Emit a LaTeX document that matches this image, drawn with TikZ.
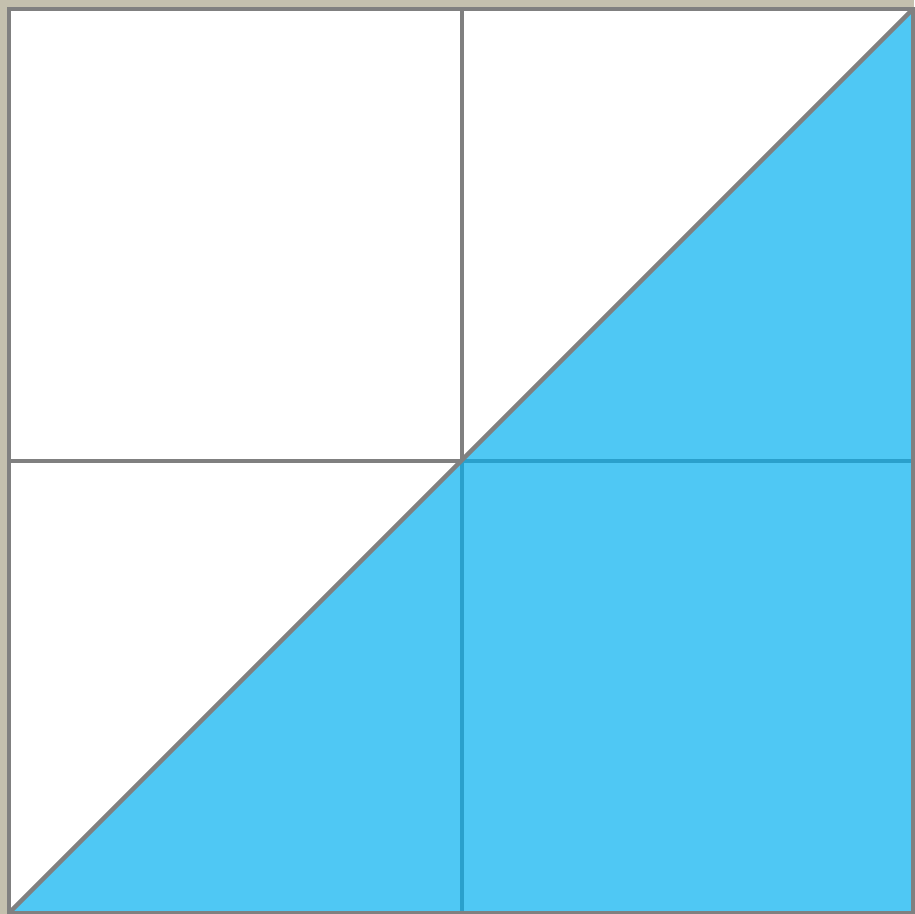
\documentclass[tikz,border=0pt]{standalone}
\definecolor{bgbeige}{HTML}{C4C0AE}
\definecolor{linegray}{HTML}{808080}
\definecolor{skyblue}{HTML}{4FC8F4}
\definecolor{deepblue}{HTML}{2AA0CC}
\begin{document}
\begin{tikzpicture}[x=1pt,y=-1pt,
  grayline/.style={draw=linegray,line width=4.3pt},
  blueline/.style={draw=deepblue,line width=4.3pt}]
\useasboundingbox (0,0) rectangle (914,914);
\fill[bgbeige] (0,0) rectangle (914,914);
\coordinate (tl) at (9,9);
\coordinate (tr) at (913,9);
\coordinate (bl) at (9,913);
\coordinate (br) at (913,913);
\coordinate (c) at (462,461);
\coordinate (tm) at (462,9);
\coordinate (bm) at (462,913);
\coordinate (lm) at (9,461);
\coordinate (rm) at (913,461);
\fill[white] (tl) rectangle (br);
\fill[skyblue] (tr) -- (br) -- (bl) -- cycle;
\draw[blueline] (c) -- (bm);
\draw[blueline] (c) -- (rm);
\draw[grayline] (tm) -- (c);
\draw[grayline] (lm) -- (c);
\draw[grayline] (bl) -- (tr);
\draw[grayline] (tl) rectangle (br);
\end{tikzpicture}
\end{document}
